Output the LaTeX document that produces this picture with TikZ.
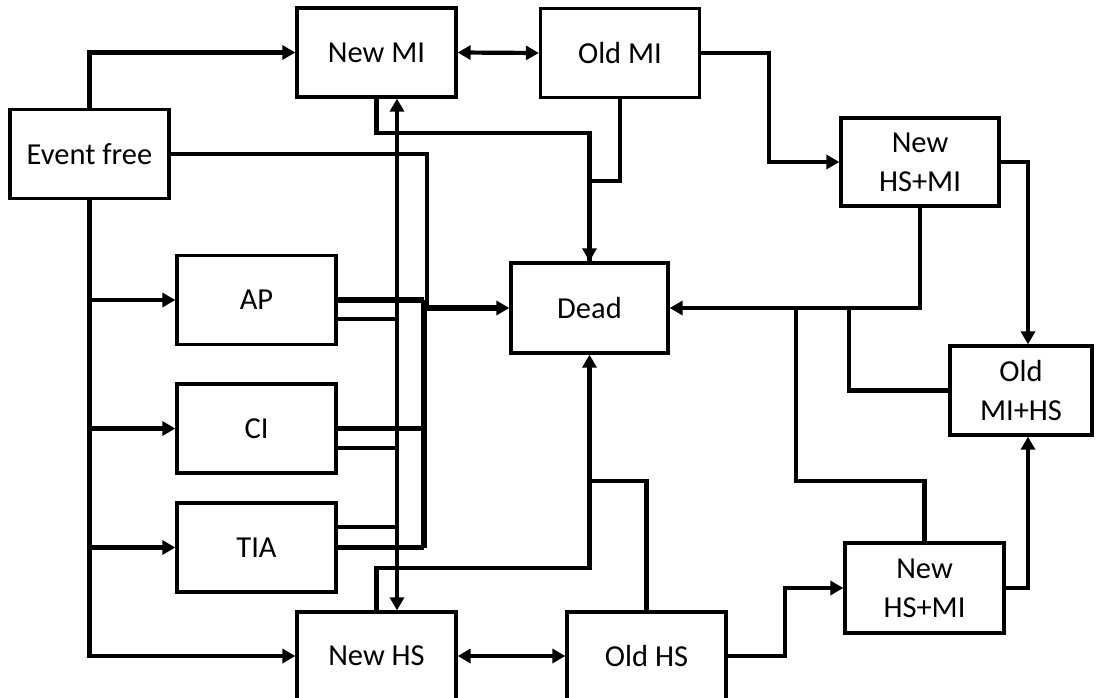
\documentclass[tikz,border=0pt]{standalone}
\usepackage{fontspec}
\setmainfont{Carlito}
\usetikzlibrary{arrows.meta}
\begin{document}
\begin{tikzpicture}[x=1pt,y=-1pt,
  box/.style={draw,line width=3.3pt,minimum width=159pt,minimum height=89pt,inner sep=0pt,align=center,
    font=\fontsize{30.5}{39}\selectfont},
  conn/.style={line width=4.2pt,line join=miter},
  thin conn/.style={line width=3.3pt},
  thick conn/.style={line width=5.5pt},
  arr/.style={-{Triangle[length=13pt,width=14pt]}},
  darr/.style={{Triangle[length=13pt,width=14pt]}-{Triangle[length=13pt,width=14pt]}}]
\useasboundingbox[fill=white] (0,0) rectangle (1097,698);
% nodes
\node[box] (nmi) at (376.5,52.5) {New MI};
\node[box] (omi) at (620,53) {Old MI};
\node[box] (ef) at (89.5,154) {Event free};
\node[box] (ap) at (256.5,300) {AP};
\node[box] (ci) at (256.5,428.5) {CI};
\node[box] (tia) at (256.5,547.5) {TIA};
\node[box,minimum width=157pt,minimum height=90pt] (dead) at (589.5,308) {Dead};
\node[box,minimum height=88pt] (nhs) at (376.5,656) {New HS};
\node[box,minimum height=88pt] (ohs) at (646.5,656) {Old HS};
\node[box,minimum width=158pt,minimum height=88pt] (nhm1) at (920,162) {New\\HS+MI};
\node[box,minimum width=142pt] (omh) at (1021,390.5) {Old\\MI+HS};
\node[box,minimum height=90pt] (nhm2) at (924.5,588) {New\\HS+MI};
% helper coordinates
\coordinate (bus) at (424,0);
\coordinate (vl) at (397,0);
\coordinate (j1) at (796,308);
\coordinate (j2) at (849,308);
\coordinate (j3) at (590,481);
\coordinate (j4) at (796,481);
\coordinate (apl) at ([yshift=-19]ap.east);
\coordinate (cil) at ([yshift=-19.5]ci.east);
\coordinate (tiau) at ([yshift=20.5]tia.east);
% Event free
\draw[conn,arr] (ef.north) |- (nmi.west);
\draw[conn,arr] (ef.south) |- (nhs.west);
\draw[conn,arr] (ef.south |- ap.west) -- (ap.west);
\draw[conn,arr] (ef.south |- ci.west) -- (ci.west);
\draw[conn,arr] (ef.south |- tia.west) -- (tia.west);
\draw[conn] (ef.east) -- (427,154) -- (427,308);
\draw[thick conn,arr] (427,308) -- (dead.west);
% bus to Dead
\draw[thick conn] (bus |- ap.east) -- (bus |- tia.east);
\draw[thick conn] (ap.east) -- (ap.east -| bus);
\draw[thick conn] (ci.east) -- (ci.east -| bus);
\draw[thick conn] (tia.east) -- (tia.east -| bus);
% lines to MI/HS vertical
\draw[thin conn] (apl) -- (apl -| vl);
\draw[thin conn] (cil) -- (cil -| vl);
\draw[thin conn] (tiau) -- (tiau -| vl);
\draw[thin conn,darr] ([xshift=20.5]nmi.south) -- ([xshift=20.5]nhs.north);
% MI pair
\draw[conn,darr] (nmi.east) -- (omi.west);
\draw[conn,arr] (nmi.south) -- ++(0,34) -| (dead.north);
\draw[conn] (omi.south) -- ++(0,82) -| (dead.north);
\draw[conn,arr] (omi.east) -- (769,53) |- (nhm1.west);
% HS pair
\draw[conn,darr] (nhs.east) -- (ohs.west);
\draw[conn,arr] (nhs.north) -- ++(0,-42) -| (dead.south);
\draw[conn] (ohs.north) |- (j3);
\draw[conn,arr] (ohs.east) -- (785,656) |- (nhm2.west);
% right side
\draw[conn,arr] (nhm1.east) -| ([xshift=7]omh.north);
\draw[conn,arr] (nhm1.south) |- (dead.east);
\draw[conn] (j1) -- (j4) -| (nhm2.north);
\draw[conn] (j2) |- (omh.west);
\draw[conn,arr] (nhm2.east) -| ([xshift=7]omh.south);
\end{tikzpicture}
\end{document}
